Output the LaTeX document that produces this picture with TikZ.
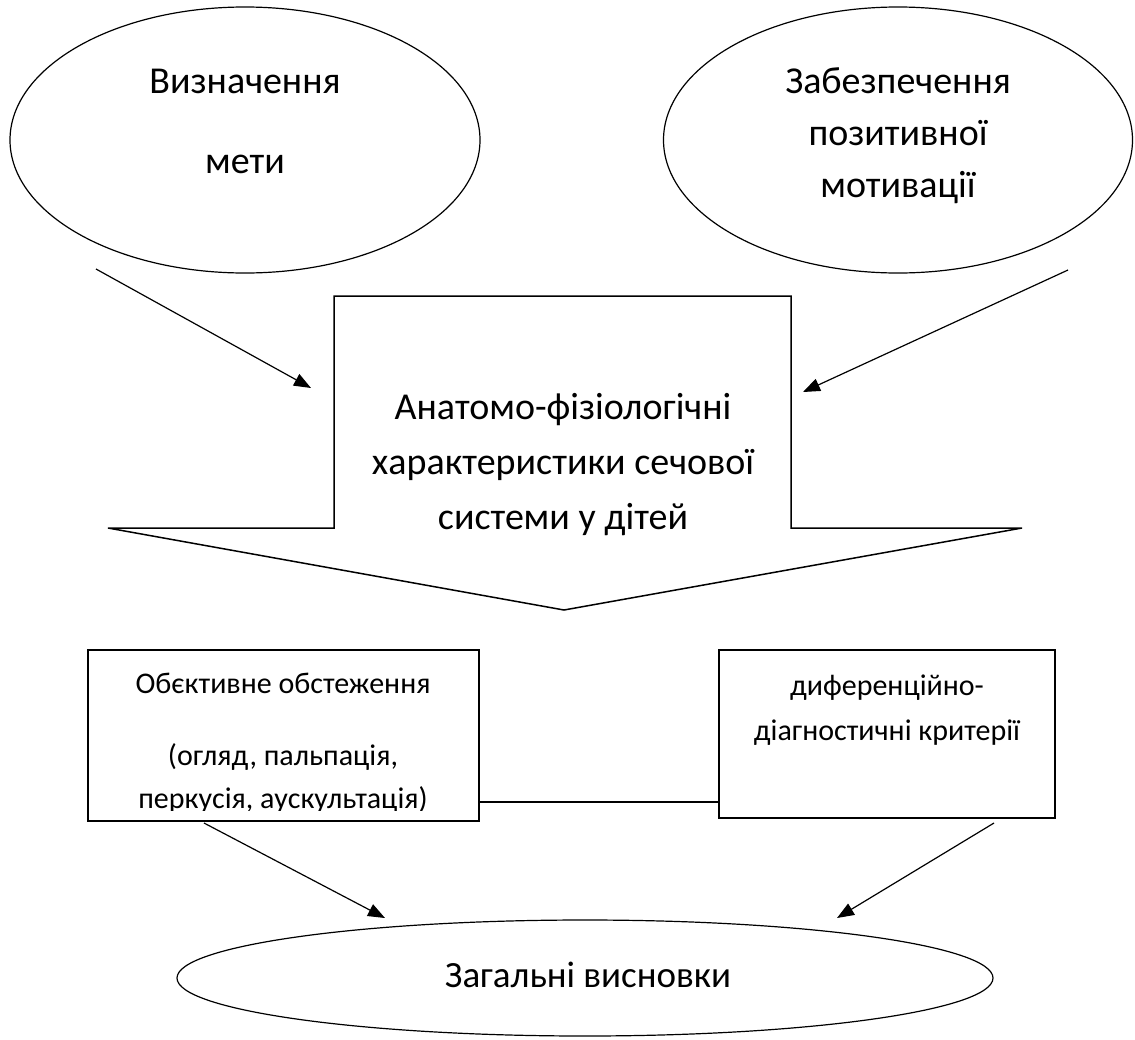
\documentclass[tikz,border=0pt]{standalone}
\usepackage{fontspec}
\setmainfont{Carlito}
\usetikzlibrary{shapes.geometric,arrows.meta}
\tikzset{
  oval/.style={draw,ellipse,line width=1.2pt,inner sep=0pt},
  frame/.style={draw,line width=1.5pt,inner sep=0pt},
  link/.style={line width=1.2pt,-{Triangle[length=17pt,width=13pt]}},
  bigtxt/.style={font=\fontsize{38}{52}\selectfont,align=center,inner sep=0pt,anchor=base},
  smalltxt/.style={font=\fontsize{30}{43}\selectfont,align=center,inner sep=0pt,anchor=base}
}
\begin{document}
\begin{tikzpicture}[x=1pt,y=-1pt]
\useasboundingbox (0,0) rectangle (1135,1039);
% upper ovals
\node[oval,minimum width=470pt,minimum height=266pt] (goal) at (245,140) {};
\node[bigtxt] (goaltxt) at (245,173) {Визначення\\[28pt]мети};
\node[oval,minimum width=469pt,minimum height=266pt] (motive) at (898,140) {};
\node[bigtxt] (motivetxt) at (898,197) {Забезпечення\\позитивної\\мотивації};
% block arrow
\draw[line width=1.5pt,line join=miter]
  (334,296)--(791,296)--(791,528)--(1022,528)--(564,610)--(108,528)--(334,528)--cycle;
\node[bigtxt,font=\fontsize{38}{55}\selectfont] (anatomy) at (563,529)
  {Анатомо-фізіологічні\\характеристики сечової\\системи у дітей};
\coordinate (g1) at (96,269);
\coordinate (g2) at (311,388);
\coordinate (m1) at (1068,270);
\coordinate (m2) at (803,392);
\draw[link] (g1)--(g2);
\draw[link] (m1)--(m2);
% lower boxes
\node[frame,minimum width=391pt,minimum height=171pt] (exam) at (283.5,735.5) {};
\begin{scope}
\clip (90,655) rectangle (477,810.5);
\node[smalltxt] (examtxt) at (283,808)
  {Обєктивне обстеження\\[29pt](огляд, пальпація,\\перкусія, аускультація)};
\end{scope}
\node[frame,minimum width=336pt,minimum height=168pt] (crit) at (887,734) {};
\node[smalltxt,font=\fontsize{30}{45}\selectfont] (crittxt) at (887,740)
  {диференційно-\\діагностичні критерії};
\draw[line width=1.2pt] (exam.east |- 0,802)--(crit.west |- 0,802);
% conclusion
\node[oval,minimum width=816pt,minimum height=116pt] (final) at (585,978) {};
\node[bigtxt,font=\fontsize{37}{52}\selectfont] (finaltxt) at (588,987) {Загальні висновки};
\coordinate (e1) at (204,823);
\coordinate (e2) at (385,918);
\coordinate (c1) at (994,823);
\coordinate (c2) at (837,918);
\draw[link] (e1)--(e2);
\draw[link] (c1)--(c2);
\end{tikzpicture}
\end{document}
